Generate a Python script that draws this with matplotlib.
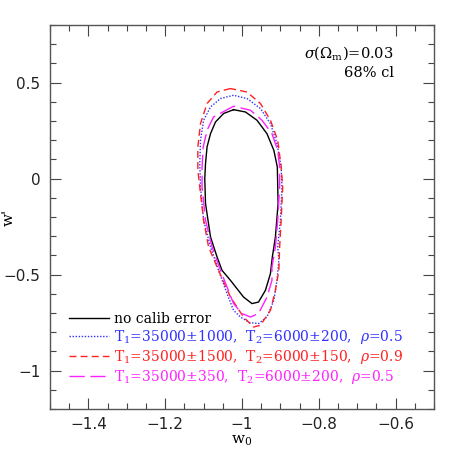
import numpy as np
import matplotlib
matplotlib.use("Agg")
import matplotlib.pyplot as plt
from matplotlib.ticker import MultipleLocator

plt.rcParams['mathtext.fontset'] = 'dejavuserif'

# contour outlines (w0, w'), going round from the top
black_w0 = [-1.022, -1.048, -1.069, -1.082, -1.091, -1.095, -1.097, -1.095, -1.082, -1.065, -1.052, -1.030,
            -0.996, -0.974, -0.957, -0.939, -0.926, -0.921, -0.913, -0.906, -0.908, -0.917, -0.935,
            -0.961, -0.991]
black_wp = [0.359, 0.339, 0.295, 0.234, 0.165, 0.078, 0.0, -0.130, -0.304, -0.408, -0.478, -0.530,
            -0.617, -0.651, -0.643, -0.582, -0.495, -0.408, -0.304, -0.130, 0.060, 0.147, 0.234,
            0.304, 0.347]

blue_w0 = [-1.022, -1.056, -1.082, -1.100, -1.108, -1.110, -1.108, -1.100, -1.082, -1.061, -1.039, -1.022,
           -1.004, -0.980, -0.957, -0.935, -0.917, -0.909, -0.904, -0.907, -0.900, -0.896, -0.898,
           -0.909, -0.926, -0.952, -0.987]
blue_wp = [0.434, 0.417, 0.373, 0.304, 0.200, 0.078, -0.044, -0.217, -0.356, -0.478, -0.599, -0.686,
           -0.721, -0.750, -0.755, -0.721, -0.634, -0.530, -0.425, -0.356, -0.217, -0.044, 0.060,
           0.182, 0.287, 0.365, 0.417]

red_w0 = [-1.030, -1.065, -1.091, -1.108, -1.115, -1.115, -1.110, -1.100, -1.087, -1.065, -1.030, -0.996,
          -0.970, -0.952, -0.926, -0.913, -0.904, -0.902, -0.898, -0.894, -0.898, -0.907, -0.926,
          -0.952, -0.987]
red_wp = [0.469, 0.451, 0.391, 0.287, 0.165, 0.043, -0.044, -0.217, -0.356, -0.460, -0.617, -0.721,
          -0.773, -0.764, -0.686, -0.582, -0.478, -0.356, -0.217, -0.044, 0.060, 0.200, 0.304,
          0.391, 0.451]

mag_w0 = [-1.022, -1.074, -1.091, -1.101, -1.104, -1.104, -1.095, -1.078, -1.056, -1.022, -1.000, -0.978,
          -0.957, -0.935, -0.922, -0.922, -0.913, -0.907, -0.902, -0.902, -0.907, -0.922, -0.948,
          -0.978]
mag_wp = [0.377, 0.321, 0.252, 0.165, 0.060, -0.044, -0.217, -0.356, -0.478, -0.651, -0.703, -0.721,
          -0.703, -0.617, -0.530, -0.460, -0.356, -0.217, -0.044, 0.060, 0.147, 0.234, 0.304,
          0.356]

labels = ['no calib error',
          r'T$_1$=35000$\pm$1000,  T$_2$=6000$\pm$200,  $\rho$=0.5',
          r'T$_1$=35000$\pm$1500,  T$_2$=6000$\pm$150,  $\rho$=0.9',
          r'T$_1$=35000$\pm$350,  T$_2$=6000$\pm$200,  $\rho$=0.5']
colors = ['black', '#3030ff', '#ff2020', '#ff20ff']


def closed(a):
    return list(a) + [a[0]]


fig = plt.figure(figsize=(4.58, 4.58), dpi=100)
ax = fig.add_axes([50 / 458, 1 - 409 / 458, 384 / 458, 384 / 458])

ax.plot(closed(black_w0), closed(black_wp), color=colors[0], lw=1.0, label=labels[0])
ax.plot(closed(blue_w0), closed(blue_wp), color=colors[1], lw=1.0, ls=(0, (1, 1.2)), label=labels[1])
ax.plot(closed(red_w0), closed(red_wp), color=colors[2], lw=1.0, ls=(0, (5, 3)), label=labels[2])
ax.plot(closed(mag_w0), closed(mag_wp), color=colors[3], lw=1.0, ls=(0, (11, 4)), label=labels[3])

ax.set_xlim(-1.5, -0.5)
ax.set_ylim(-1.2, 0.8)
ax.xaxis.set_major_locator(MultipleLocator(0.2))
ax.xaxis.set_minor_locator(MultipleLocator(0.05))
ax.yaxis.set_major_locator(MultipleLocator(0.5))
ax.yaxis.set_minor_locator(MultipleLocator(0.1))
ax.tick_params(which='both', direction='in', top=True, right=True, labelsize=11,
               color='#444444', labelcolor='#222222')
ax.tick_params(which='major', length=8, width=0.8)
ax.tick_params(which='minor', length=4, width=0.8)
ax.tick_params(axis='x', pad=6)
ax.tick_params(axis='y', pad=7)
ax.xaxis.set_major_formatter(plt.FuncFormatter(lambda v, p: ('%g' % v).replace('-', '\u2212')))
ax.yaxis.set_major_formatter(plt.FuncFormatter(lambda v, p: ('%g' % v).replace('-', '\u2212')))
for s in ax.spines.values():
    s.set_linewidth(1.0)
    s.set_color('#555555')

ax.set_xlabel(r'w$_0$', fontsize=11, family='DejaVu Serif', labelpad=1)
fig.text(9 / 458, 1 - 217 / 458, "w'", rotation=90, fontsize=11, family='DejaVu Serif',
         ha='center', va='center')

ax.text(0.895, 0.927, r'$\sigma$($\Omega_{\rm m}$)=0.03', transform=ax.transAxes,
        ha='right', va='center', fontsize=10.5, family='DejaVu Serif')
ax.text(0.895, 0.876, '68% cl', transform=ax.transAxes,
        ha='right', va='center', fontsize=10.5, family='DejaVu Serif')

leg = ax.legend(loc='lower left', bbox_to_anchor=(0.035, 0.045), frameon=False,
                handlelength=2.9, handletextpad=0.35, labelspacing=0.15,
                borderaxespad=0, prop={'family': 'DejaVu Serif', 'size': 10})
for t, c in zip(leg.get_texts(), colors):
    t.set_color(c)

fig.savefig('out.png', dpi=100)
